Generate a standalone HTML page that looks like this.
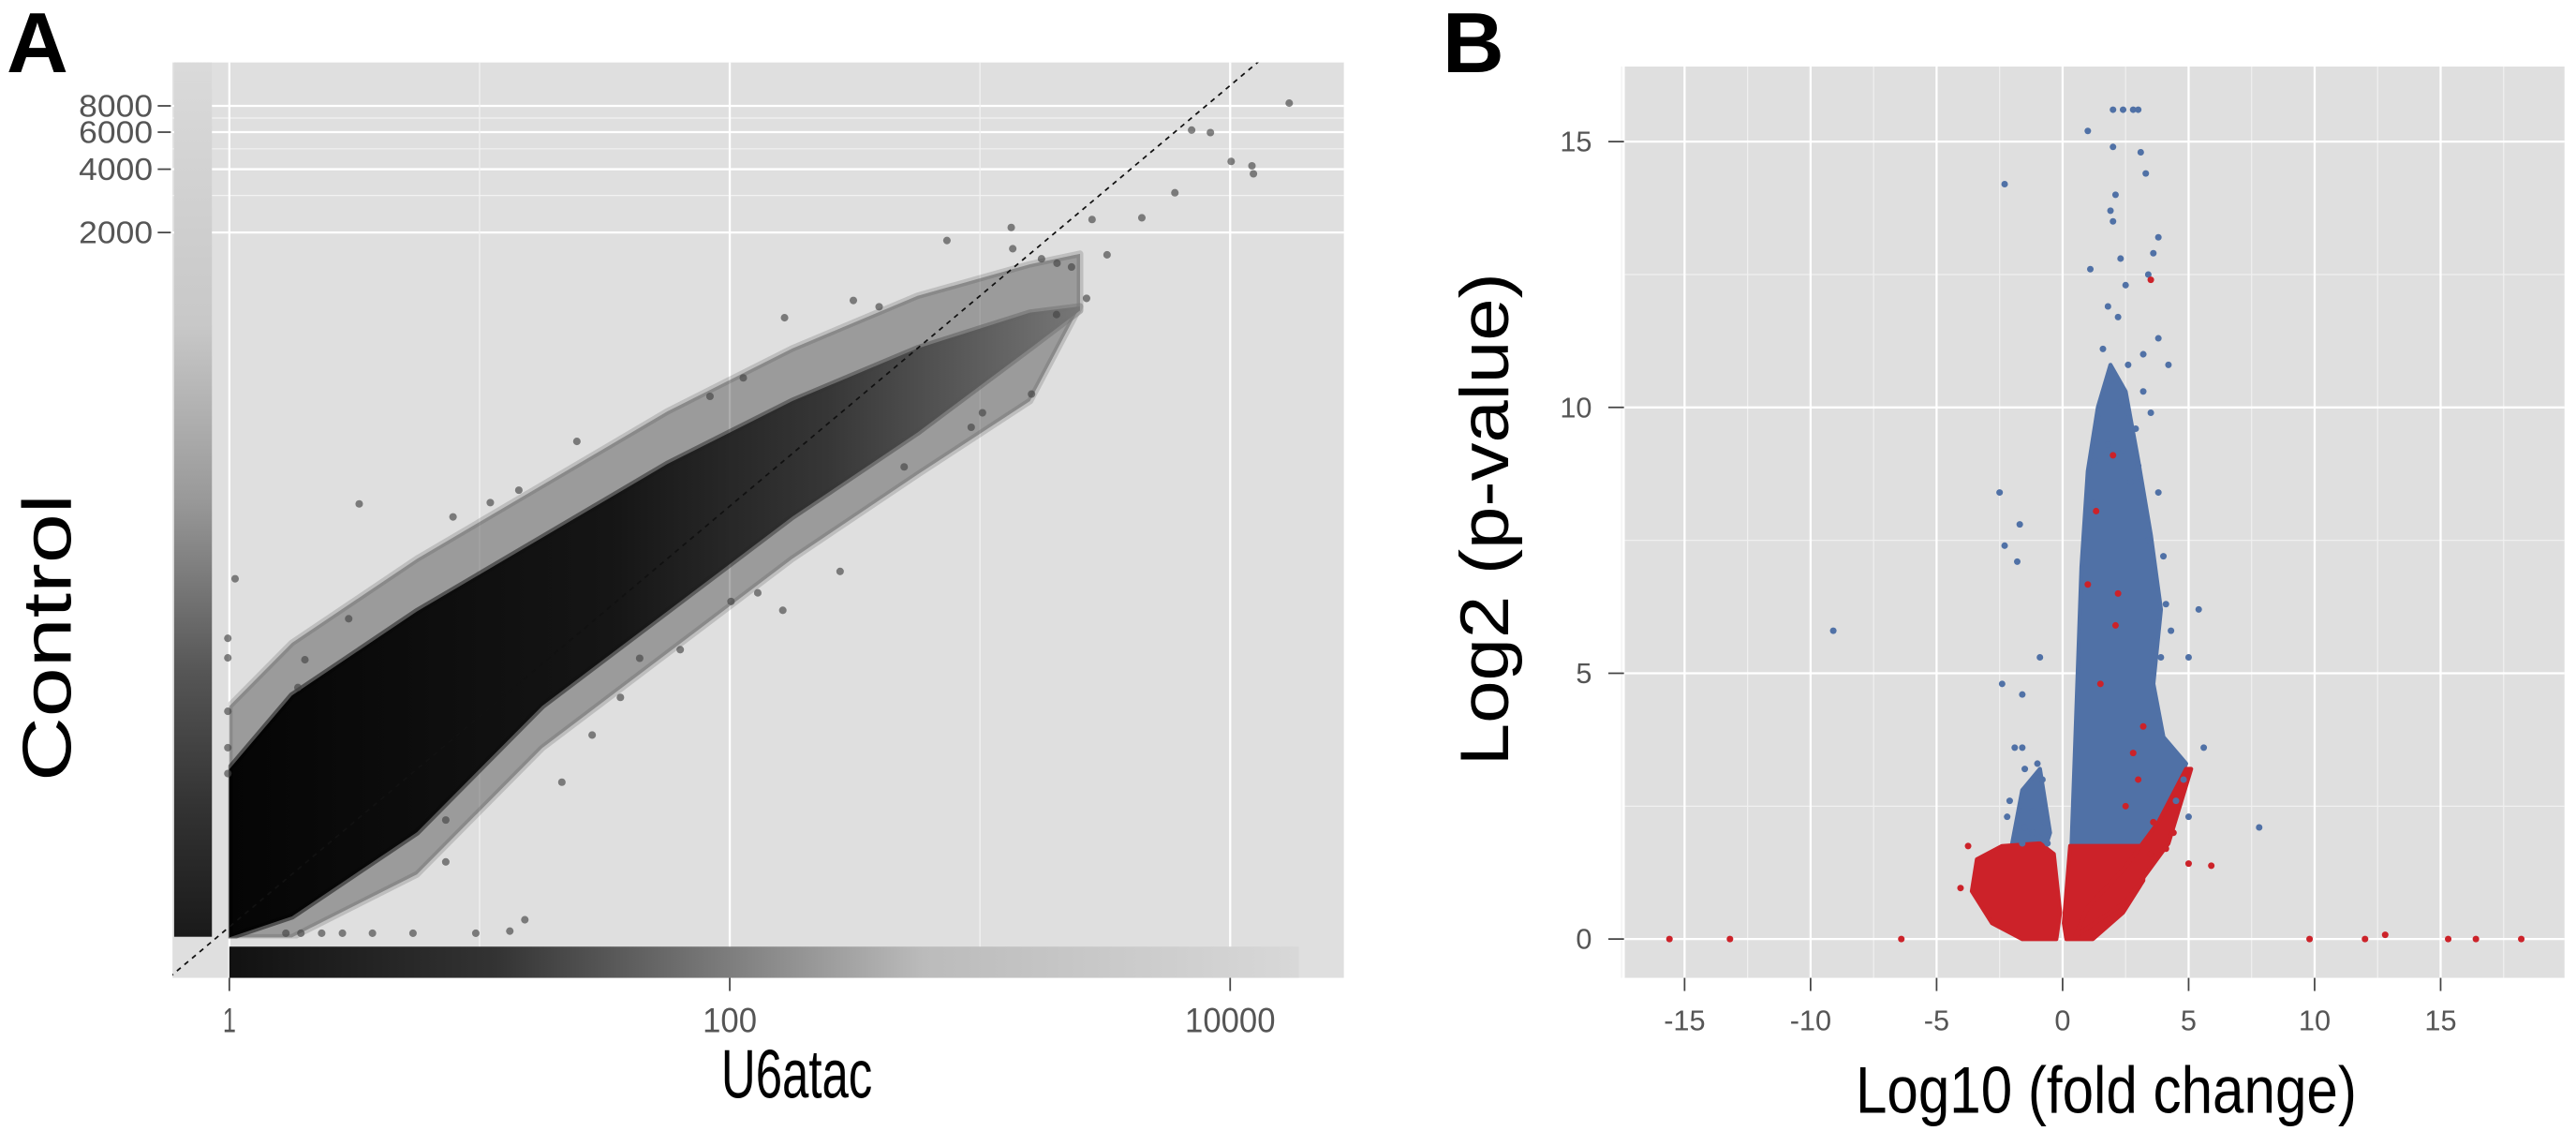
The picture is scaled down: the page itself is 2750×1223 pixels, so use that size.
<!DOCTYPE html>
<html><head><meta charset="utf-8"><style>
html,body{margin:0;padding:0;background:#fff;}
svg{display:block;}
text{font-family:"Liberation Sans",sans-serif;}
</style></head><body>
<svg id="fig" xmlns="http://www.w3.org/2000/svg" width="2750" height="1223" viewBox="0 0 1568 697.3">
<defs>
<clipPath id="clipA"><rect x="105" y="38" width="713" height="557"/></clipPath>
<clipPath id="clipCloud"><rect x="139" y="38" width="679" height="533"/></clipPath>
<clipPath id="clipB"><rect x="989" y="40.5" width="572" height="554.5"/></clipPath>
<linearGradient id="rugL" x1="0" y1="38" x2="0" y2="570" gradientUnits="userSpaceOnUse">
<stop offset="0" stop-color="#dadada"/><stop offset="0.3" stop-color="#c8c8c8"/><stop offset="0.5" stop-color="#999"/><stop offset="0.7" stop-color="#555"/><stop offset="0.85" stop-color="#333"/><stop offset="1" stop-color="#1a1a1a"/></linearGradient>
<linearGradient id="rugB" x1="139" y1="0" x2="790" y2="0" gradientUnits="userSpaceOnUse">
<stop offset="0" stop-color="#111"/><stop offset="0.25" stop-color="#333"/><stop offset="0.45" stop-color="#777"/><stop offset="0.65" stop-color="#bbb"/><stop offset="1" stop-color="#d8d8d8"/></linearGradient>
<linearGradient id="cloudG" x1="139" y1="0" x2="660" y2="0" gradientUnits="userSpaceOnUse">
<stop offset="0" stop-color="#000"/><stop offset="0.45" stop-color="#111"/><stop offset="0.7" stop-color="#333"/><stop offset="1" stop-color="#777"/></linearGradient>
</defs>

<text x="4" y="44" font-size="52" font-weight="bold">A</text>
<text x="878" y="44" font-size="52" font-weight="bold">B</text>

<g id="panelA">
<rect x="105" y="38" width="713" height="557" fill="#dfdfdf"/>
<g id="gridA"></g>
<g id="rugsA">
<rect x="106" y="38" width="23" height="532" fill="url(#rugL)"/>
<rect x="139.6" y="576" width="651" height="19" fill="url(#rugB)"/>
</g>
<g id="marksA" clip-path="url(#clipA)"></g>
<g id="axesA"></g>
<text x="485" y="668" font-size="42" text-anchor="middle" textLength="92" lengthAdjust="spacingAndGlyphs">U6atac</text>
<text transform="translate(43,388) rotate(-90)" font-size="42" text-anchor="middle" textLength="175" lengthAdjust="spacingAndGlyphs">Control</text>
</g>

<g id="panelB">
<rect x="989" y="40.5" width="572" height="554.5" fill="#dfdfdf"/>
<g id="gridB"></g>
<g id="marksB" clip-path="url(#clipB)"></g>
<g id="axesB"></g>
<text x="1282" y="677" font-size="40" text-anchor="middle" textLength="305" lengthAdjust="spacingAndGlyphs">Log10 (fold change)</text>
<text transform="translate(918,316) rotate(-90)" font-size="42" text-anchor="middle" textLength="300" lengthAdjust="spacingAndGlyphs">Log2 (p-value)</text>
</g>
</svg>
<script>
// ---------- Panel A data (log10 values) ----------
const aXTicks = [0, 2, 4];
const aXTickLabels = ["1", "100", "10000"];
const aXMinor = [1, 3];
const aYTicks = [2000, 4000, 6000, 8000];
const aYTickLabels = ["2000", "4000", "6000", "8000"];
const aYMinor = [3000, 5000, 7000];
const cloudX = [0, 0.25, 0.75, 1.25, 1.75, 2.25, 2.75, 3.2, 3.4];
const cloudHi = [0.75, 1.1, 1.5, 1.85, 2.2, 2.5, 2.75, 2.92, 2.95];
const cloudLo = [-0.05, 0.05, 0.45, 1.05, 1.5, 1.95, 2.35, 2.75, 2.93];
const fringeHi = [1.05, 1.35, 1.75, 2.1, 2.45, 2.75, 3.0, 3.15, 3.2];
const fringeLo = [-0.05, -0.05, 0.25, 0.85, 1.3, 1.75, 2.15, 2.5, 2.95];
const outX = [0.023,0.519,0.477,0.894,1.157,1.043,1.389,2.219,2.494,2.597,3.206,2.441,2.212,1.802,1.450,1.329,0.865,0.865,1.181,1.121,0.985,0.734,0.572,0.452,0.369,0.286,0.226,-0.006,-0.006,-0.006,-0.006,-0.006,0.302,0.274,2.112,2.005,1.563,1.640,1.921,2.054,3.010,2.965,2.697,3.306,3.426,4.236,3.846,3.921,4.004,4.087,4.093,3.779,3.647,3.448,3.125,2.868,3.131,3.508,3.246,3.308,3.366];
const outY = [1.655,2.011,1.465,1.949,2.076,2.017,2.308,2.896,2.978,2.948,2.533,1.690,1.505,1.318,0.912,0.688,0.508,0.309,0.034,-0.02,-0.03,-0.03,-0.03,-0.03,-0.03,-0.03,-0.03,1.372,1.279,1.025,0.852,0.729,1.270,1.138,1.588,1.547,1.091,1.277,2.522,2.610,2.444,2.375,2.187,2.911,2.988,3.916,3.788,3.776,3.639,3.618,3.580,3.490,3.371,3.363,3.325,3.263,3.224,3.195,3.176,3.155,3.137];

// ---------- Panel B data ----------
const bXTicks = [-15,-10,-5,0,5,10,15];
const bXMinor = [-17.5,-12.5,-7.5,-2.5,2.5,7.5,12.5,17.5];
const bYTicks = [0,5,10,15];
const bYMinor = [2.5,7.5,12.5];
const blueBodyX = [0.35,0.45,0.6,0.75,1.0,1.4,1.9,2.5,3.0,3.5,3.9,3.6,4.0,4.9,3.6,3.2];
const blueBodyY = [1.7,3,5,7,8.8,10,10.8,10.3,9,7.6,6.2,4.8,3.8,3.3,1.9,1.7];
const blueLeftX = [-2.0,-1.6,-0.9,-0.5,-0.7,-1.8];
const blueLeftY = [1.8,2.8,3.2,2.0,1.7,1.7];
const redLeftX = [-0.1,-0.25,-1.6,-2.8,-3.6,-3.4,-2.4,-0.9,-0.35];
const redLeftY = [0.5,0,0,0.3,0.9,1.5,1.75,1.8,1.6];
const redRightX = [0.05,0.15,1.2,2.4,3.2,3.2,0.3];
const redRightY = [0.3,0,0,0.5,1.1,1.75,1.75];
const redStreakX = [0.5,2.5,4.2,5.1,4.9,3.8,2.4,1.0];
const redStreakY = [0.05,0.7,1.8,3.2,3.2,2.2,1.3,0.6];
const blueX = [1.0,2.0,2.4,2.8,3.0,2.0,3.1,3.3,2.1,1.9,2.0,2.3,3.8,3.6,1.1,2.5,3.4,1.8,2.2,3.2,3.8,4.2,1.6,2.6,1.9,1.7,2.3,3.2,2.6,1.4,2.9,3.5,1.8,2.4,3.0,3.8,4.0,3.4,3.7,4.1,4.3,3.9,1.2,2.7,0.9,1.3,
 -2.3,-9.1,-2.5,-2.3,-1.7,-1.8,-2.4,-1.6,-0.9,-1.9,-1.6,-1.5,-1.0,-0.8,-2.1,-1.2,-0.7,-2.2,-1.5,-0.9,-1.6,-0.6,-1.2,
 7.8,5.4,5.0,5.6,5.0,4.8,4.5];
const blueY = [15.2,15.6,15.6,15.6,15.6,14.9,14.8,14.4,14.0,13.7,13.5,12.8,13.2,12.9,12.6,12.3,12.5,11.9,11.7,11.0,11.3,10.8,11.1,10.8,10.5,10.3,10.1,10.3,9.9,9.8,9.6,9.9,9.3,9.2,8.9,8.4,7.2,7.5,6.7,6.3,5.8,5.3,8.2,8.6,7.6,9.0,
 14.2,5.8,8.4,7.4,7.8,7.1,4.8,4.6,5.3,3.6,3.6,3.2,3.3,3.0,2.6,2.4,2.2,2.3,2.1,1.9,1.8,1.8,2.0,
 2.1,6.2,5.3,3.6,2.3,3.0,2.6];
const redX = [-15.6,-13.2,-6.4,9.8,12.0,12.8,15.3,16.4,18.2,-3.75,-4.05,5.9,5.0,3.5,1.33,2.0,1.0,2.2,2.1,1.5,3.2,2.8,3.0,2.5,3.6,4.4,4.1,3.5];
const redY = [0,0,0,0,0,0.08,0,0,0,1.75,0.96,1.38,1.42,12.4,8.05,9.1,6.67,6.5,5.9,4.8,4.0,3.5,3.0,2.5,2.2,2.0,1.7,1.6];

const NS = "http://www.w3.org/2000/svg";
function mk(tag, attrs, parent){const e=document.createElementNS(NS,tag);for(const k in attrs)e.setAttribute(k,attrs[k]);parent.appendChild(e);return e;}

const xA = l => 139.6 + 152.3*l;
const yA = l => 564 - 128*l;
const xB = v => 1255.5 + 15.34*v;
const yB = v => 571.4 - 32.35*v;

// ---- Panel A grid ----
const gA = document.getElementById('gridA');
aYMinor.forEach(v=>{const e=mk('line',{x1:105,x2:818,y1:yA(Math.log10(v)),y2:yA(Math.log10(v)),stroke:'#f2f2f2','stroke-width':0.7},gA);

});
aYTicks.forEach(v=>{const e=mk('line',{x1:105,x2:818,y1:yA(Math.log10(v)),y2:yA(Math.log10(v)),stroke:'#fff','stroke-width':1.3},gA);

});
aXMinor.forEach(v=>{const e=mk('line',{x1:xA(v),x2:xA(v),y1:38,y2:595,stroke:'#f2f2f2','stroke-width':0.7},gA);

});
aXTicks.forEach(v=>{const e=mk('line',{x1:xA(v),x2:xA(v),y1:38,y2:595,stroke:'#fff','stroke-width':1.3},gA);

});

// ---- Panel A marks ----
const mA = document.getElementById('marksA');
const cloudLayer = mk('g',{'clip-path':'url(#clipCloud)'},mA);


function band(hi, lo, fill, op, name){
  const p=[];
  for(let i=0;i<cloudX.length;i++) p.push(xA(cloudX[i])+','+yA(hi[i]));
  for(let i=cloudX.length-1;i>=0;i--) p.push(xA(cloudX[i])+','+yA(lo[i]));
  const e=mk('polygon',{points:p.join(' '),fill:fill,'fill-opacity':op,stroke:fill,'stroke-width':4,'stroke-opacity':op*0.5,'stroke-linejoin':'round'},cloudLayer);
  
  
}
band(fringeHi, fringeLo, '#4a4a4a', 0.45, 'sparse-point-fringe');
band(cloudHi, cloudLo, 'url(#cloudG)', 0.97, 'dense-point-cloud');
for(let i=0;i<outX.length;i++){
  const c = mk('circle',{cx:xA(outX[i]),cy:yA(outY[i]),r:2.3,fill:'#444','fill-opacity':0.65},mA);
  
  
}
const diag = mk('line',{x1:xA(-0.3),y1:yA(-0.3),x2:xA(4.2),y2:yA(4.2),stroke:'#111','stroke-width':1,'stroke-dasharray':'3,3'},mA);



// ---- Panel A axes ----
const axA = document.getElementById('axesA');
aYTicks.forEach((v,i)=>{const y=yA(Math.log10(v));
 const t=mk('line',{x1:96,x2:104,y1:y,y2:y,stroke:'#444','stroke-width':1},axA);
 
 
 const tx=mk('text',{x:93,y:y+6.5,'font-size':19,'text-anchor':'end',fill:'#555',textLength:45,lengthAdjust:'spacingAndGlyphs'},axA);
 tx.textContent=aYTickLabels[i];
 
 });
aXTicks.forEach((v,i)=>{const x=xA(v);
 const t=mk('line',{x1:x,x2:x,y1:595,y2:603,stroke:'#444','stroke-width':1},axA);
 
 
 const w=[8,33,55][i];
 const tx=mk('text',{x:x,y:628,'font-size':21,'text-anchor':'middle',fill:'#555',textLength:w,lengthAdjust:'spacingAndGlyphs'},axA);
 tx.textContent=aXTickLabels[i];
 
 });

// ---- Panel B grid ----
const gB = document.getElementById('gridB');
bXMinor.forEach(v=>{const e=mk('line',{x1:xB(v),x2:xB(v),y1:40.5,y2:595,stroke:'#f0f0f0','stroke-width':0.7},gB);

});
bYMinor.forEach(v=>{const e=mk('line',{x1:989,x2:1561,y1:yB(v),y2:yB(v),stroke:'#f0f0f0','stroke-width':0.7},gB);

});
bXTicks.forEach(v=>{const e=mk('line',{x1:xB(v),x2:xB(v),y1:40.5,y2:595,stroke:'#fff','stroke-width':1.3},gB);

});
bYTicks.forEach(v=>{const e=mk('line',{x1:989,x2:1561,y1:yB(v),y2:yB(v),stroke:'#fff','stroke-width':1.3},gB);

});

// ---- Panel B marks ----
const mB = document.getElementById('marksB');
function poly(xs,ys,fill,name){
  const p=[];for(let i=0;i<xs.length;i++)p.push(xB(xs[i])+','+yB(ys[i]));
  const e=mk('polygon',{points:p.join(' '),fill:fill,stroke:fill,'stroke-width':2.5,'stroke-linejoin':'round'},mB);
  
  
}
poly(blueBodyX,blueBodyY,'#5071a6','significant-points-dense');
poly(blueLeftX,blueLeftY,'#5071a6','significant-points-left');
poly(redLeftX,redLeftY,'#cc2229','nonsignificant-points-left');
poly(redRightX,redRightY,'#cc2229','nonsignificant-points-right');
poly(redStreakX,redStreakY,'#cc2229','nonsignificant-points-streak');
for(let i=0;i<blueX.length;i++){
  const c=mk('circle',{cx:xB(blueX[i]),cy:yB(blueY[i]),r:2,fill:'#5071a6'},mB);
  
  
}
for(let i=0;i<redX.length;i++){
  const c=mk('circle',{cx:xB(redX[i]),cy:yB(redY[i]),r:2,fill:'#cc2229'},mB);
  
  
}

// ---- Panel B axes ----
const axB = document.getElementById('axesB');
bXTicks.forEach(v=>{const x=xB(v);
 const t=mk('line',{x1:x,x2:x,y1:595,y2:603,stroke:'#444','stroke-width':1},axB);
 
 
 const tx=mk('text',{x:x,y:627,'font-size':17.5,'text-anchor':'middle',fill:'#555'},axB);
 tx.textContent=String(v);
 
 });
bYTicks.forEach(v=>{const y=yB(v);
 const t=mk('line',{x1:979,x2:988.5,y1:y,y2:y,stroke:'#444','stroke-width':1},axB);
 
 
 const tx=mk('text',{x:969,y:y+6,'font-size':17.5,'text-anchor':'end',fill:'#555'},axB);
 tx.textContent=String(v);
 
 });
</script>
</body></html>
